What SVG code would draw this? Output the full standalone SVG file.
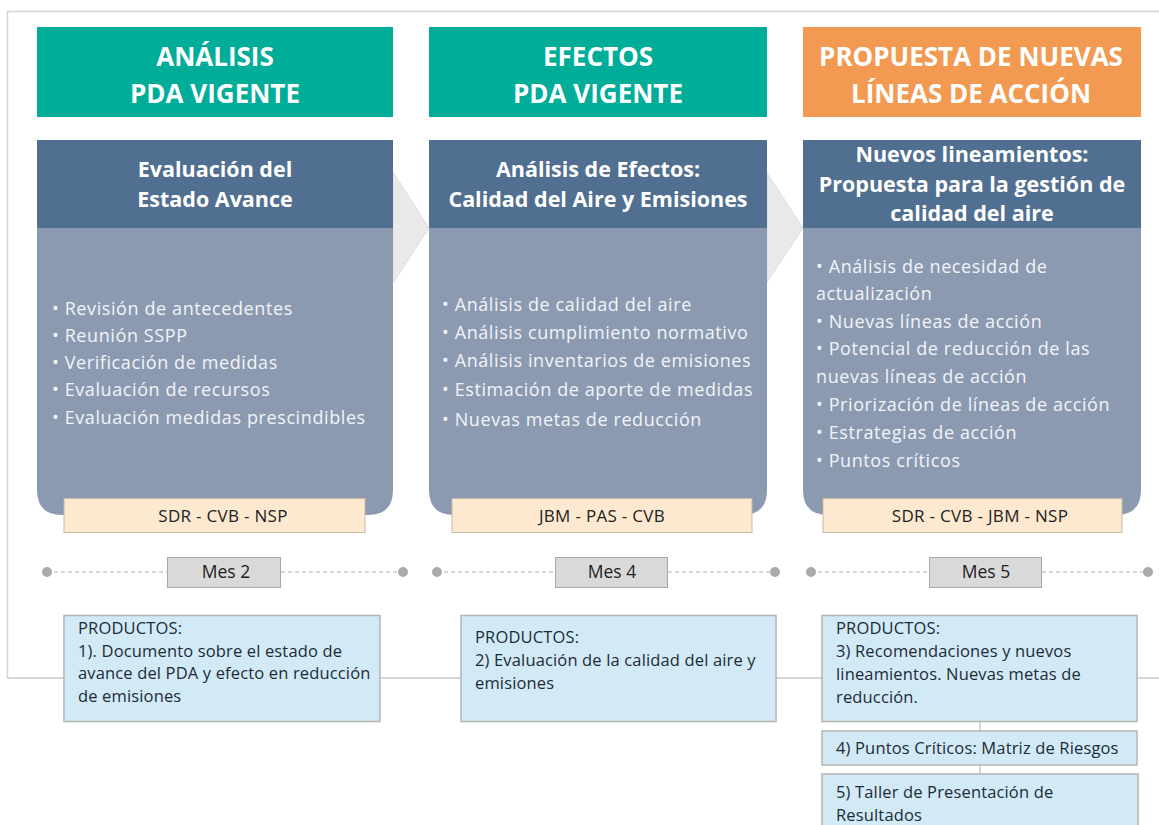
<svg xmlns="http://www.w3.org/2000/svg" width="1159" height="825" viewBox="0 0 1159 825">
<style>
.hdr{font-family:"Open Sans","Noto Sans",sans-serif;font-weight:bold;font-size:26px;fill:#ffffff;text-anchor:middle}
.sub{font-family:"Open Sans","Noto Sans",sans-serif;font-weight:bold;font-size:21.5px;fill:#ffffff;text-anchor:middle}
.body{font-family:"Open Sans","Noto Sans",sans-serif;font-size:18px;letter-spacing:0.6px;fill:#f2f4f7}
.team{font-family:"Open Sans","Noto Sans",sans-serif;font-size:17px;letter-spacing:0.3px;fill:#222222;text-anchor:middle}
.mes{font-family:"Open Sans","Noto Sans",sans-serif;font-size:17.5px;fill:#222222;text-anchor:middle}
.prod{font-family:"Open Sans","Noto Sans",sans-serif;font-size:16.5px;letter-spacing:0.15px;fill:#1e2a38}
.teal{fill:#00ad99}
.orange{fill:#f29a52}
.dark{fill:#506f91}
.light{fill:#8b9ab1}
.teambox{fill:#fde9d0;stroke:#c8b8a4;stroke-width:1}
.mesbox{fill:#d9d9d9;stroke:#a8a8a8;stroke-width:1}
.prodbox{fill:#d1eaf5;stroke:#b4b4b4;stroke-width:1.5}
.dash{stroke:#b0b0b0;stroke-width:1.2;stroke-dasharray:4 3;fill:none}
.dot{fill:#ababab}
.chev{fill:#e9e9e9;stroke:#dedede;stroke-width:1}
</style>

<g id="frame">
<path d="M1159,11.5 H7.5 V678" fill="none" stroke="#d4d4d4" stroke-width="1.5"/>
</g>

<g id="connectors">
<line x1="7" y1="678" x2="1159" y2="678" stroke="#c8c8c8" stroke-width="1.5"/>
<line x1="980" y1="722" x2="980" y2="774" stroke="#c8c8c8" stroke-width="1.5"/>
<polygon class="chev" points="393,172 429,228 393,283"/>
<polygon class="chev" points="767,173 803,228 767,282"/>
<line class="dash" x1="47" y1="572" x2="167" y2="572"/>
<line class="dash" x1="281" y1="572" x2="403" y2="572"/>
<circle class="dot" cx="47" cy="572" r="5"/>
<circle class="dot" cx="403" cy="572" r="5"/>
<line class="dash" x1="437" y1="572" x2="555" y2="572"/>
<line class="dash" x1="668" y1="572" x2="775" y2="572"/>
<circle class="dot" cx="437" cy="572" r="5"/>
<circle class="dot" cx="775" cy="572" r="5"/>
<line class="dash" x1="811" y1="572" x2="929" y2="572"/>
<line class="dash" x1="1042" y1="572" x2="1148" y2="572"/>
<circle class="dot" cx="811" cy="572" r="5"/>
<circle class="dot" cx="1148" cy="572" r="5"/>
</g>

<!-- Column 1 -->
<g id="header1">
<rect class="teal" x="37" y="27" width="356" height="90"/>
<text class="hdr" x="215" y="66">ANÁLISIS</text>
<text class="hdr" x="215" y="103">PDA VIGENTE</text>
</g>
<g id="panel1">
<path class="light" d="M37,228 H393 V490 Q393,515 368,515 H62 Q37,515 37,490 Z"/>
<rect class="dark" x="37" y="140" width="356" height="88"/>
<text class="sub" x="215" y="177">Evaluación del</text>
<text class="sub" x="215" y="207">Estado Avance</text>
<text class="body" x="52" y="315">• Revisión de antecedentes</text>
<text class="body" x="52" y="342">• Reunión SSPP</text>
<text class="body" x="52" y="369">• Verificación de medidas</text>
<text class="body" x="52" y="396">• Evaluación de recursos</text>
<text class="body" x="52" y="424">• Evaluación medidas prescindibles</text>
</g>
<g id="team1">
<rect class="teambox" x="64" y="498.5" width="301" height="34"/>
<text class="team" x="223" y="522">SDR - CVB - NSP</text>
</g>
<g id="mes2">
<rect class="mesbox" x="167.5" y="557.5" width="113" height="30"/>
<text class="mes" x="226" y="578">Mes 2</text>
</g>
<g id="prod1">
<rect class="prodbox" x="64" y="615.5" width="316" height="106"/>
<text class="prod" x="78" y="634">PRODUCTOS:</text>
<text class="prod" x="78" y="657">1). Documento sobre el estado de</text>
<text class="prod" x="78" y="679">avance del PDA y efecto en reducción</text>
<text class="prod" x="78" y="702">de emisiones</text>
</g>

<!-- Column 2 -->
<g id="header2">
<rect class="teal" x="429" y="27" width="338" height="90"/>
<text class="hdr" x="598" y="66">EFECTOS</text>
<text class="hdr" x="598" y="103">PDA VIGENTE</text>
</g>
<g id="panel2">
<path class="light" d="M429,228 H767 V490 Q767,515 742,515 H454 Q429,515 429,490 Z"/>
<rect class="dark" x="429" y="140" width="338" height="88"/>
<text class="sub" x="598" y="177">Análisis de Efectos:</text>
<text class="sub" x="598" y="207">Calidad del Aire y Emisiones</text>
<text class="body" x="442" y="311">• Análisis de calidad del aire</text>
<text class="body" x="442" y="339">• Análisis cumplimiento normativo</text>
<text class="body" x="442" y="367">• Análisis inventarios de emisiones</text>
<text class="body" x="442" y="396">• Estimación de aporte de medidas</text>
<text class="body" x="442" y="426">• Nuevas metas de reducción</text>
</g>
<g id="team2">
<rect class="teambox" x="452" y="498.5" width="300" height="34"/>
<text class="team" x="602" y="522">JBM - PAS - CVB</text>
</g>
<g id="mes4">
<rect class="mesbox" x="555.5" y="557.5" width="112" height="30"/>
<text class="mes" x="612" y="578">Mes 4</text>
</g>
<g id="prod2">
<rect class="prodbox" x="461" y="615.5" width="315" height="106"/>
<text class="prod" x="475" y="643">PRODUCTOS:</text>
<text class="prod" x="475" y="666">2) Evaluación de la calidad del aire y</text>
<text class="prod" x="475" y="689">emisiones</text>
</g>

<!-- Column 3 -->
<g id="header3">
<rect class="orange" x="803" y="27" width="338" height="90"/>
<text class="hdr" x="971" y="66">PROPUESTA DE NUEVAS</text>
<text class="hdr" x="971" y="103">LÍNEAS DE ACCIÓN</text>
</g>
<g id="panel3">
<path class="light" d="M803,228 H1141 V490 Q1141,515 1116,515 H828 Q803,515 803,490 Z"/>
<rect class="dark" x="803" y="140" width="338" height="88"/>
<text class="sub" x="972" y="162">Nuevos lineamientos:</text>
<text class="sub" x="972" y="192">Propuesta para la gestión de</text>
<text class="sub" x="972" y="221">calidad del aire</text>
<text class="body" x="816" y="273">• Análisis de necesidad de</text>
<text class="body" x="816" y="300">actualización</text>
<text class="body" x="816" y="328">• Nuevas líneas de acción</text>
<text class="body" x="816" y="355">• Potencial de reducción de las</text>
<text class="body" x="816" y="383">nuevas líneas de acción</text>
<text class="body" x="816" y="411">• Priorización de líneas de acción</text>
<text class="body" x="816" y="439">• Estrategias de acción</text>
<text class="body" x="816" y="467">• Puntos críticos</text>
</g>
<g id="team3">
<rect class="teambox" x="823" y="498.5" width="299" height="34"/>
<text class="team" x="980" y="522">SDR - CVB - JBM - NSP</text>
</g>
<g id="mes5">
<rect class="mesbox" x="929.5" y="557.5" width="112" height="30"/>
<text class="mes" x="986" y="578">Mes 5</text>
</g>
<g id="prod3">
<rect class="prodbox" x="822" y="615.5" width="315" height="106"/>
<text class="prod" x="836" y="634">PRODUCTOS:</text>
<text class="prod" x="836" y="657">3) Recomendaciones y nuevos</text>
<text class="prod" x="836" y="680">lineamientos. Nuevas metas de</text>
<text class="prod" x="836" y="703">reducción.</text>
</g>
<g id="prod4">
<rect class="prodbox" x="822" y="731" width="315" height="34"/>
<text class="prod" x="836" y="754">4) Puntos Críticos: Matriz de Riesgos</text>
</g>
<g id="prod5">
<rect class="prodbox" x="822" y="774" width="316" height="60"/>
<text class="prod" x="836" y="798">5) Taller de Presentación de</text>
<text class="prod" x="836" y="821">Resultados</text>
</g>
</svg>
